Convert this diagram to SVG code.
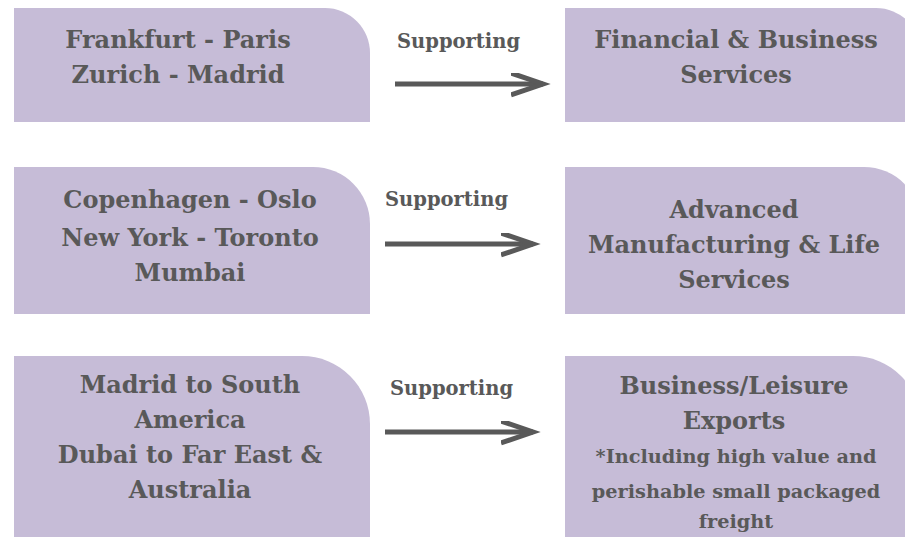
<svg xmlns="http://www.w3.org/2000/svg" width="905" height="537" viewBox="0 0 905 537">
<defs>
<style>
.box{fill:#c6bcd7;}
.t{font-family:"DejaVu Serif","Liberation Serif",serif;font-weight:bold;fill:#595959;text-anchor:middle;font-size:24px;}
.s{font-size:19.3px;}
.lbl{font-family:"DejaVu Serif","Liberation Serif",serif;font-weight:bold;fill:#595959;font-size:19.5px;}
.ln{stroke:#595959;stroke-width:5;fill:none;}
</style>
<marker id="ah" markerUnits="userSpaceOnUse" markerWidth="40" markerHeight="30" refX="32" refY="11" orient="auto" viewBox="0 0 40 30">
<path d="M0,0 L32,11 L0,22" fill="none" stroke="#595959" stroke-width="5"/>
</marker>
</defs>
<rect width="905" height="537" fill="#ffffff"/>
<g id="src1">
<path class="box" d="M14,8 H325 A45,45 0 0 1 370,53 V122 H14 Z"/>
<text class="t" x="178" y="48">Frankfurt - Paris</text>
<text class="t" x="178" y="83">Zurich - Madrid</text>
</g>
<g id="dst1">
<path class="box" d="M565,8 H876 A45,45 0 0 1 921,53 V122 H565 Z"/>
<text class="t" x="736" y="48">Financial &amp; Business</text>
<text class="t" x="736" y="83">Services</text>
</g>
<g id="src2">
<path class="box" d="M14,167 H313 A57,57 0 0 1 370,224 V314 H14 Z"/>
<text class="t" x="190" y="208">Copenhagen - Oslo</text>
<text class="t" x="190" y="246">New York - Toronto</text>
<text class="t" x="190" y="281">Mumbai</text>
</g>
<g id="dst2">
<path class="box" d="M565,167 H864 A57,57 0 0 1 921,224 V314 H565 Z"/>
<text class="t" x="734" y="218">Advanced</text>
<text class="t" x="734" y="253">Manufacturing &amp; Life</text>
<text class="t" x="734" y="288">Services</text>
</g>
<g id="src3">
<path class="box" d="M14,356 H302 A68,68 0 0 1 370,424 V540 H14 Z"/>
<text class="t" x="190" y="393">Madrid to South</text>
<text class="t" x="190" y="428">America</text>
<text class="t" x="190" y="463">Dubai to Far East &amp;</text>
<text class="t" x="190" y="498">Australia</text>
</g>
<g id="dst3">
<path class="box" d="M565,356 H853 A68,68 0 0 1 921,424 V540 H565 Z"/>
<text class="t" x="734" y="394">Business/Leisure</text>
<text class="t" x="734" y="429">Exports</text>
<text class="t s" x="736" y="463">*Including high value and</text>
<text class="t s" x="736" y="498">perishable small packaged</text>
<text class="t s" x="736" y="528">freight</text>
</g>
<g id="connectors">
<line class="ln" x1="395" y1="84" x2="543" y2="84" marker-end="url(#ah)"/>
<text class="lbl" x="397" y="48">Supporting</text>
<line class="ln" x1="385" y1="244" x2="533" y2="244" marker-end="url(#ah)"/>
<text class="lbl" x="385" y="206">Supporting</text>
<line class="ln" x1="385" y1="432" x2="533" y2="432" marker-end="url(#ah)"/>
<text class="lbl" x="390" y="395">Supporting</text>
</g>
</svg>
